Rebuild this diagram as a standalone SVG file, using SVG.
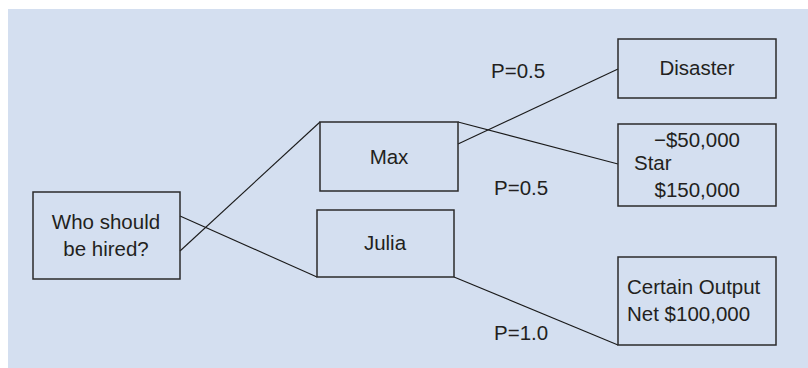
<svg xmlns="http://www.w3.org/2000/svg" width="808" height="368" viewBox="0 0 808 368">
  <style>
    .node rect { fill: none; stroke: #2b2b2b; stroke-width: 1.5; }
    .node text, .prob { font-family: "Liberation Sans", Arial, sans-serif; font-size: 20.5px; fill: #231f20; }
    .edges line { stroke: #1a1a1a; stroke-width: 1.1; }
  </style>
  <rect x="8" y="9" width="800" height="359" fill="#d4dff0"/>

  <g class="edges">
    <line x1="180" y1="251" x2="320" y2="122"/>
    <line x1="180" y1="216" x2="317" y2="277"/>
    <line x1="458" y1="144" x2="618" y2="69"/>
    <line x1="458" y1="122" x2="618" y2="164"/>
    <line x1="454" y1="277" x2="618" y2="345"/>
  </g>

  <text class="prob" x="491" y="78">P=0.5</text>
  <text class="prob" x="494" y="195">P=0.5</text>
  <text class="prob" x="494" y="340">P=1.0</text>

  <g id="who" class="node">
    <rect x="33" y="192" width="147" height="87"/>
    <text x="106" y="229" text-anchor="middle">Who should</text>
    <text x="106" y="256" text-anchor="middle">be hired?</text>
  </g>
  <g id="max" class="node">
    <rect x="320" y="122" width="138" height="69"/>
    <text x="389" y="164" text-anchor="middle">Max</text>
  </g>
  <g id="julia" class="node">
    <rect x="317" y="210" width="137" height="67"/>
    <text x="385" y="250" text-anchor="middle">Julia</text>
  </g>
  <g id="disaster" class="node">
    <rect x="618" y="39" width="158" height="59"/>
    <text x="697" y="75" text-anchor="middle">Disaster</text>
  </g>
  <g id="star" class="node">
    <rect x="618" y="124" width="158" height="82"/>
    <text x="740" y="147" text-anchor="end">−$50,000</text>
    <text x="634" y="170">Star</text>
    <text x="740" y="197" text-anchor="end">$150,000</text>
  </g>
  <g id="certain" class="node">
    <rect x="618" y="257" width="158" height="88"/>
    <text x="627" y="294">Certain Output</text>
    <text x="627" y="321">Net $100,000</text>
  </g>
</svg>
